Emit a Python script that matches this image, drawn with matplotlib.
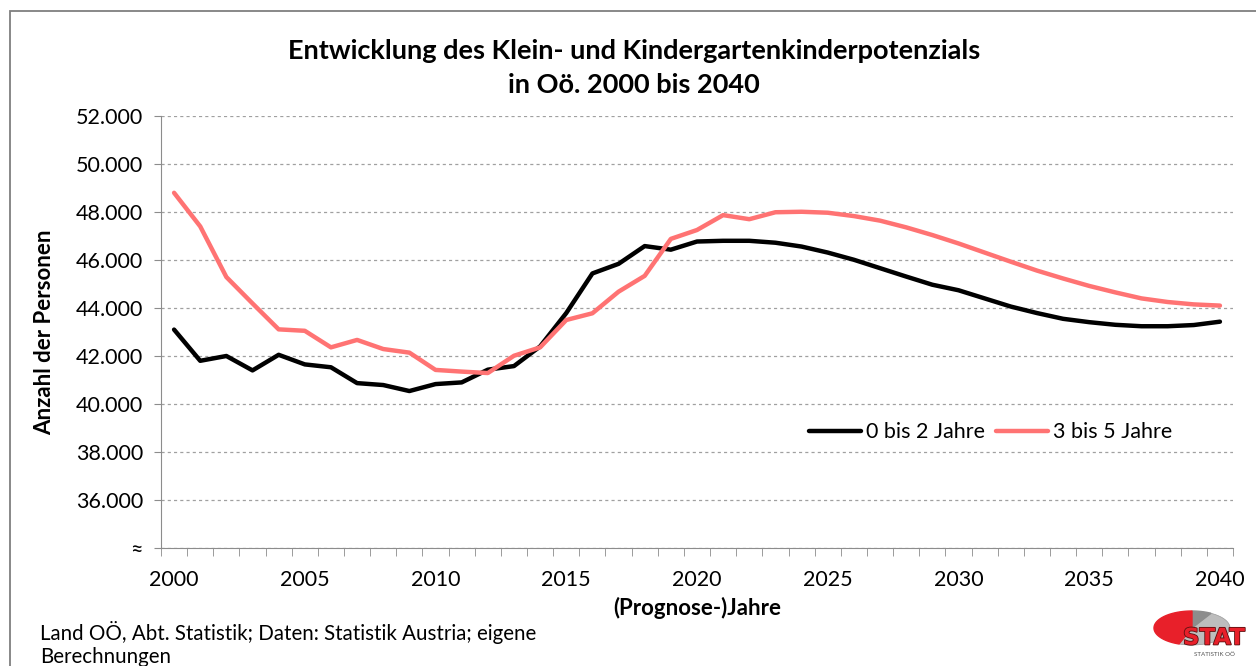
import matplotlib.pyplot as plt
import matplotlib.patheffects as pe
import numpy as np
from matplotlib.patches import Rectangle, Polygon
from matplotlib.ticker import FuncFormatter, MultipleLocator

plt.rcParams['font.family'] = ['Lato', 'DejaVu Sans']

years = list(range(2000, 2041))
age_0_2 = [43100, 41800, 42000, 41400, 42050, 41650, 41530, 40870, 40790, 40540,
           40830, 40900, 41430, 41580, 42400, 43790, 45440, 45840, 46580, 46430,
           46770, 46800, 46800, 46720, 46560, 46310, 46010, 45660, 45310, 44970,
           44740, 44400, 44060, 43790, 43550, 43410, 43300, 43240, 43240, 43290,
           43430]
age_3_5 = [48800, 47400, 45290, 44190, 43110, 43050, 42360, 42670, 42290, 42140,
           41420, 41350, 41290, 42010, 42360, 43500, 43780, 44680, 45340, 46880,
           47250, 47870, 47700, 47990, 48010, 47970, 47830, 47640, 47360, 47040,
           46690, 46310, 45930, 45560, 45230, 44920, 44650, 44400, 44250, 44150,
           44100]
labels = ['0 bis 2 Jahre', '3 bis 5 Jahre']
colors = ['black', '#ff7373']

W, H = 1256, 666
fig = plt.figure(figsize=(W / 100, H / 100), dpi=100)

# outer chart frame
fig.patches.append(Rectangle((10 / W, -0.1), 1.2, 1 - 11 / H + 0.1, transform=fig.transFigure,
                             fill=False, edgecolor='#7f7f7f', linewidth=1.3))

ax = fig.add_axes([161 / W, 1 - 548 / H, (1233 - 161) / W, (548 - 116) / H])
ax.plot(years, age_0_2, color=colors[0], lw=3.2, label=labels[0], solid_capstyle='round')
ax.plot(years, age_3_5, color=colors[1], lw=3.2, label=labels[1], solid_capstyle='round')

ax.set_xlim(1999.5, 2040.5)
ax.set_ylim(34000, 52000)
ax.yaxis.set_major_locator(MultipleLocator(2000))
ax.yaxis.set_major_formatter(FuncFormatter(
    lambda v, p: '≈' if v <= 34000 else f'{int(v):,}'.replace(',', '.')))
ax.set_xticks(range(2000, 2041, 5))
ax.set_xticks(np.arange(1999.5, 2041, 1), minor=True)
ax.tick_params(axis='x', which='major', length=0, pad=16, labelsize=15.5)
ax.tick_params(axis='x', which='minor', length=6, color='#8c8c8c', direction='out')
ax.tick_params(axis='y', length=5, color='#8c8c8c', labelsize=15.5, pad=8)
ax.grid(axis='y', color='#a0a0a0', linestyle=(0, (2.5, 2.5)), linewidth=0.9)
for s in ['top', 'right']:
    ax.spines[s].set_visible(False)
for s in ['left', 'bottom']:
    ax.spines[s].set_color('#8c8c8c')

ax.set_xlabel('(Prognose-)Jahre', fontsize=16, fontweight='bold', labelpad=5)
ax.set_ylabel('Anzahl der Personen', fontsize=16, fontweight='bold', labelpad=15)

fig.text(634 / W, 1 - 68 / H, 'Entwicklung des Klein- und Kindergartenkinderpotenzials\nin Oö. 2000 bis 2040',
         ha='center', va='center', fontsize=19.5, fontweight='bold', linespacing=1.5)

leg = ax.legend(loc='center', bbox_to_anchor=(0.774, 0.268), ncol=2, frameon=True,
                fontsize=15.5, handlelength=2.4, columnspacing=0.5, handletextpad=0.25,
                borderpad=0.3)
leg.get_frame().set_edgecolor('none')
leg.get_frame().set_facecolor('white')
leg.get_frame().set_alpha(1)

fig.text(40 / W, 1 - 644 / H, 'Land OÖ, Abt. Statistik; Daten: Statistik Austria; eigene\nBerechnungen',
         ha='left', va='center', fontsize=14.8, linespacing=1.2)

# STAT logo
lg = fig.add_axes([1150 / W, 1 - 662 / H, 100 / W, 57 / H])
lg.set_xlim(1150, 1250)
lg.set_ylim(662, 605)
lg.axis('off')
cx, cy, rx, ry = 1192, 628, 38, 17


def sector(a0, a1):
    t = np.radians(np.linspace(a0, a1, 60))
    pts = np.column_stack([cx + rx * np.cos(t), cy - ry * np.sin(t)])
    return np.vstack([[cx, cy], pts])


lg.add_patch(Polygon(sector(-110, 60), closed=True, color='#bdbdbd', ec='#9a9a9a', lw=0.5))
lg.add_patch(Polygon(sector(60, 90), closed=True, color='#8c8c8c'))
lg.add_patch(Polygon(sector(90, 250), closed=True, color='#e8202a'))
t = lg.text(1214, 638, 'STAT', ha='center', va='center', fontsize=16.5, fontweight='heavy',
            color='#e8202a', family=['DejaVu Sans'])
t.set_path_effects([pe.withStroke(linewidth=1.2, foreground='#5a1010')])
lg.text(1214, 655, 'STATISTIK OÖ', ha='center', va='center', fontsize=4.5, color='#555555')

fig.savefig('out.png', dpi=100)
